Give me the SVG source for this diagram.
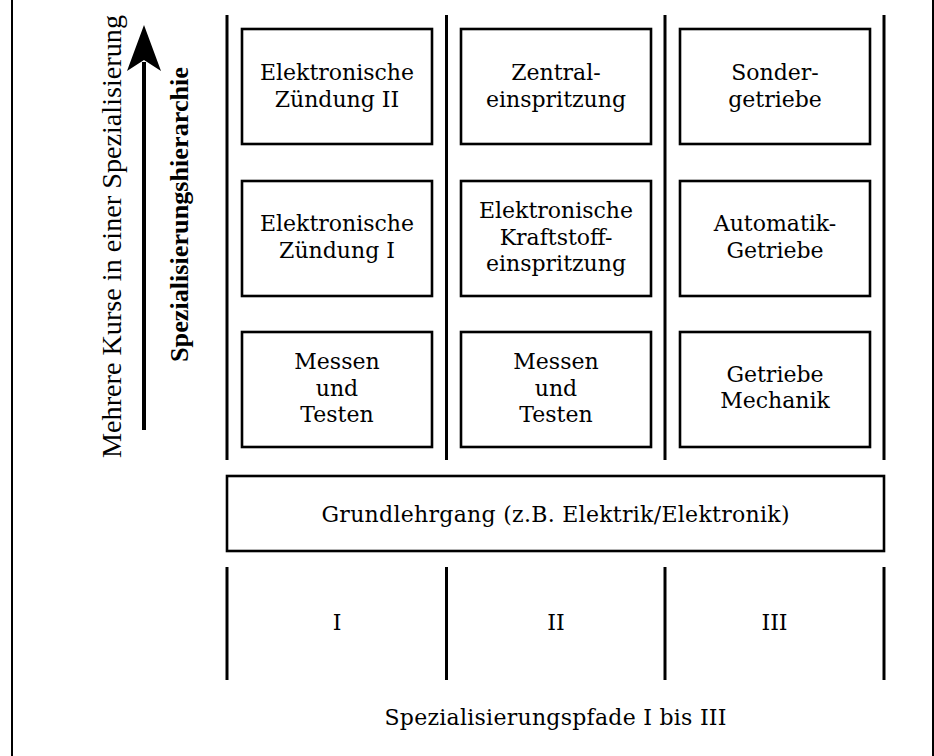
<svg xmlns="http://www.w3.org/2000/svg" width="934" height="756" viewBox="0 0 934 756">
<style>
text{font-family:"DejaVu Serif","Liberation Serif",serif;font-size:22px;fill:#000;text-anchor:middle}
.r{font-family:"Liberation Serif","DejaVu Serif",serif;font-size:28px}
.b{font-family:"Liberation Serif","DejaVu Serif",serif;font-weight:bold;font-size:26px}
.box{fill:#fff;stroke:#000;stroke-width:2.6}
.col{stroke:#000;stroke-width:3;fill:none}
.frame{stroke:#000;stroke-width:2;fill:none}
</style>
<line class="frame" x1="12" y1="0" x2="12" y2="756"/>
<line class="frame" x1="933" y1="0" x2="933" y2="756"/>
<g id="connectors">
<line class="col" x1="227" y1="15" x2="227" y2="460"/>
<line class="col" x1="446.5" y1="15" x2="446.5" y2="460"/>
<line class="col" x1="665" y1="15" x2="665" y2="460"/>
<line class="col" x1="884" y1="15" x2="884" y2="460"/>
<line class="col" x1="227" y1="567" x2="227" y2="680"/>
<line class="col" x1="446.5" y1="567" x2="446.5" y2="680"/>
<line class="col" x1="665" y1="567" x2="665" y2="680"/>
<line class="col" x1="884" y1="567" x2="884" y2="680"/>
</g>
<g id="arrow">
<line x1="144" y1="62" x2="144" y2="430" stroke="#000" stroke-width="4"/>
<path d="M144,25 L161,71 L144,60 L127,71 Z" fill="#000"/>
</g>
<g id="label-kurse">
<text class="r" transform="translate(121,236.5) rotate(-90)" textLength="443" lengthAdjust="spacingAndGlyphs">Mehrere Kurse in einer Spezialisierung</text>
</g>
<g id="label-hierarchie">
<text class="b" transform="translate(188,214.5) rotate(-90)" textLength="295" lengthAdjust="spacingAndGlyphs">Spezialisierungshierarchie</text>
</g>
<g id="n11"><rect class="box" x="242" y="29" width="190" height="115"/>
<text x="337" y="80">Elektronische</text><text x="337" y="107">Zündung II</text></g>
<g id="n12"><rect class="box" x="461" y="29" width="190" height="115"/>
<text x="556" y="80">Zentral-</text><text x="556" y="107">einspritzung</text></g>
<g id="n13"><rect class="box" x="680" y="29" width="190" height="115"/>
<text x="775" y="80">Sonder-</text><text x="775" y="107">getriebe</text></g>
<g id="n21"><rect class="box" x="242" y="181" width="190" height="115"/>
<text x="337" y="231">Elektronische</text><text x="337" y="258">Zündung I</text></g>
<g id="n22"><rect class="box" x="461" y="181" width="190" height="115"/>
<text x="556" y="218">Elektronische</text><text x="556" y="245">Kraftstoff-</text><text x="556" y="271">einspritzung</text></g>
<g id="n23"><rect class="box" x="680" y="181" width="190" height="115"/>
<text x="775" y="231">Automatik-</text><text x="775" y="258">Getriebe</text></g>
<g id="n31"><rect class="box" x="242" y="332" width="190" height="115"/>
<text x="337" y="369">Messen</text><text x="337" y="396">und</text><text x="337" y="422">Testen</text></g>
<g id="n32"><rect class="box" x="461" y="332" width="190" height="115"/>
<text x="556" y="369">Messen</text><text x="556" y="396">und</text><text x="556" y="422">Testen</text></g>
<g id="n33"><rect class="box" x="680" y="332" width="190" height="115"/>
<text x="775" y="382">Getriebe</text><text x="775" y="408">Mechanik</text></g>
<g id="grund"><rect class="box" x="227" y="476" width="657" height="75"/>
<text x="555.5" y="522" textLength="468" lengthAdjust="spacing">Grundlehrgang (z.B. Elektrik/Elektronik)</text></g>
<g id="pfade">
<text x="337" y="630">I</text>
<text x="556" y="630">II</text>
<text x="774.5" y="630">III</text>
<text x="555.5" y="725" textLength="342" lengthAdjust="spacing">Spezialisierungspfade I bis III</text>
</g>
</svg>
